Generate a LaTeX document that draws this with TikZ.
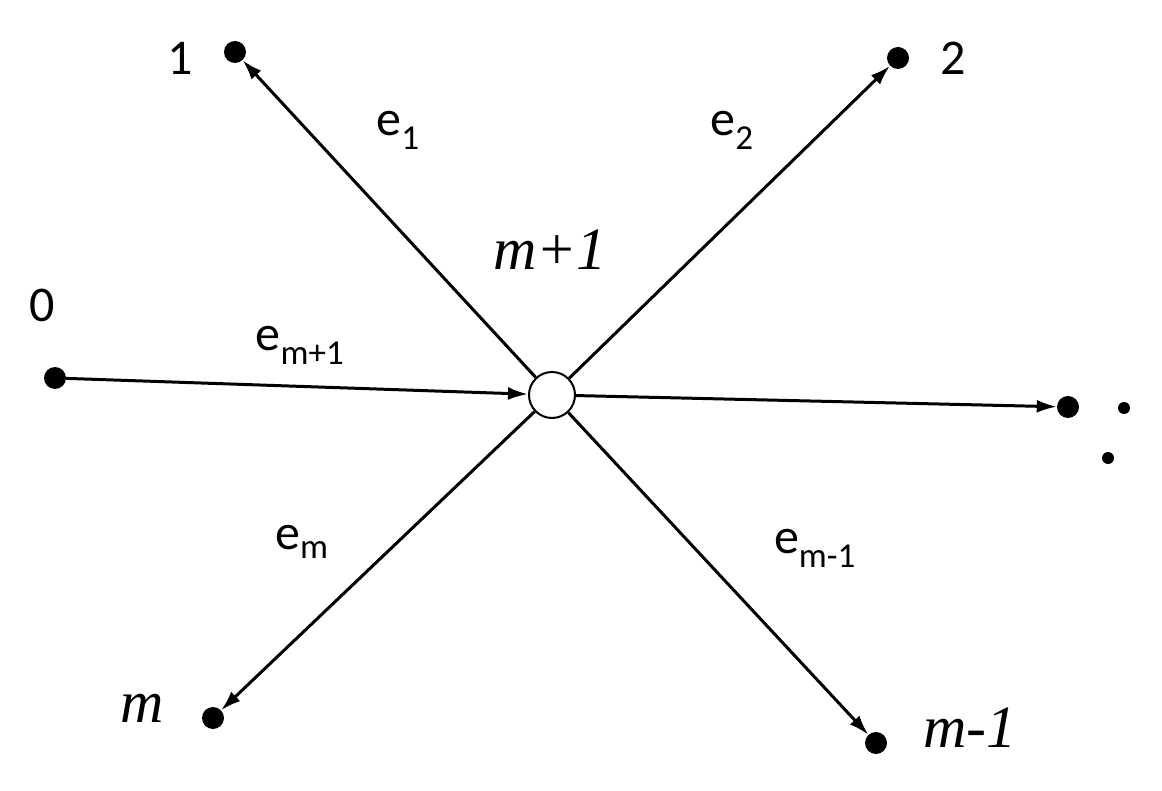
\documentclass[tikz,border=0pt]{standalone}
\usepackage{fontspec}
\setmainfont{Carlito}
\newfontfamily\tms{Liberation Serif}
\usetikzlibrary{arrows.meta}
\begin{document}
\begin{tikzpicture}[x=1pt,y=-1pt,
  dot/.style={circle,fill=black,inner sep=0pt,minimum size=22pt},
  arr/.style={line width=3pt,-{Latex[length=20pt,width=13pt]}},
  lab/.style={font=\fontsize{50}{56}\selectfont},
  ital/.style={font=\tms\itshape\fontsize{60}{66}\selectfont}]
\useasboundingbox (0,0) rectangle (1162,791);
\node[circle,draw,line width=2pt,fill=white,minimum size=46pt,inner sep=0pt] (c) at (552,395) {};
\node[dot] (n1) at (235,52) {};
\node[dot] (n2) at (898,58) {};
\node[dot] (n0) at (55,378) {};
\node[dot] (nr) at (1068,407) {};
\node[dot] (nm) at (213,718) {};
\node[dot] (nm1) at (876,743) {};
\fill (1124,408) circle (6pt) (1108,458) circle (6pt);
\coordinate (cd1) at (1124,408);
\draw[arr] (n0) -- (c);
\draw[arr] (c) -- (n1);
\draw[arr] (c) -- (n2);
\draw[arr] (c) -- (nr);
\draw[arr] (c) -- (nm);
\draw[arr] (c) -- (nm1);
\node[lab] (l1) at (180,58) {1};
\node[lab] (l2) at (953,58) {2};
\node[lab] (l0) at (42,305) {0};
\node[lab] (e1) at (398,130) {e\textsubscript{1}};
\node[lab] (e2) at (732,130) {e\textsubscript{2}};
\node[lab] (em1p) at (300,345) {e\textsubscript{m+1}};
\node[lab] (em) at (302,542) {e\textsubscript{m}};
\node[lab] (emm1) at (815,548) {e\textsubscript{m-1}};
\node[ital] (lmp1) at (550,250) {m+1};
\node[ital] (lm) at (142,708) {m};
\node[ital] (lmm1) at (970,728) {m-1};
\end{tikzpicture}
\end{document}
